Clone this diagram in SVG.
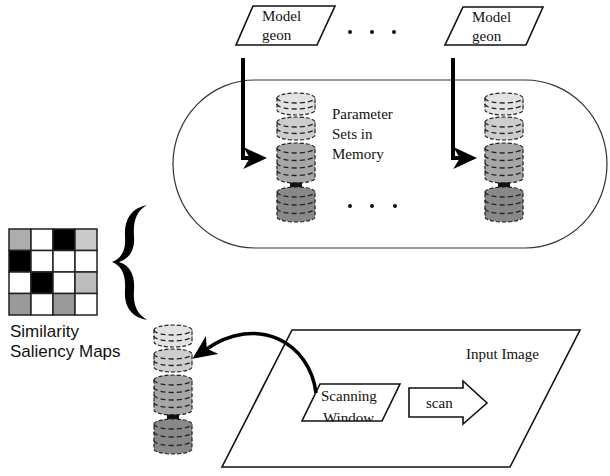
<svg xmlns="http://www.w3.org/2000/svg" width="610" height="476" viewBox="0 0 610 476">
<style>
.serif{font-family:"Liberation Serif","Times New Roman",serif;font-size:15px;fill:#111}
.sans{font-family:"Liberation Sans",Arial,sans-serif;font-size:17px;fill:#111}
.outline{fill:#fff;stroke:#111;stroke-width:1.6}
.thin{fill:none;stroke:#333;stroke-width:1.2}
.conn{fill:none;stroke:#000;stroke-width:4}
.cyl{stroke:#222;stroke-width:1.2;stroke-dasharray:4 2}
.div{fill:none;stroke:#222;stroke-width:1.3;stroke-dasharray:5 3}
.cell{stroke:#222;stroke-width:1.5}
</style>
<defs>
<marker id="barb" markerUnits="userSpaceOnUse" markerWidth="24" markerHeight="22" viewBox="0 0 22 20" refX="8" refY="10" orient="auto">
<path d="M0,0 L22,10 L0,20 L6,10 Z" fill="#000"/>
</marker>
<g id="stack">
<path class="cyl" fill="#e2e2e2" d="M-19,5 A19,5 0 0 1 19,5 L19,17 A19,5 0 0 1 -19,17 Z"/>
<path class="div" d="M-19,5 A19,5 0 0 0 19,5 M-19,11 A19,5 0 0 0 19,11"/>
<path class="cyl" fill="#cdcdcd" d="M-19,29 A19,5 0 0 1 19,29 L19,42 A19,5 0 0 1 -19,42 Z"/>
<path class="div" d="M-19,29 A19,5 0 0 0 19,29 M-19,35.5 A19,5 0 0 0 19,35.5"/>
<path class="cyl" fill="#a6a6a6" d="M-19,55 A19,5 0 0 1 19,55 L19,85 A19,5 0 0 1 -19,85 Z"/>
<path class="div" d="M-19,55 A19,5 0 0 0 19,55 M-19,62.5 A19,5 0 0 0 19,62.5 M-19,70 A19,5 0 0 0 19,70 M-19,77.5 A19,5 0 0 0 19,77.5"/>
<rect x="-6" y="89.5" width="12" height="5" fill="#111"/>
<path class="cyl" fill="#888" d="M-19,99 A19,5 0 0 1 19,99 L19,124 A19,5 0 0 1 -19,124 Z"/>
<path class="div" d="M-19,99 A19,5 0 0 0 19,99 M-19,107 A19,5 0 0 0 19,107 M-19,115.5 A19,5 0 0 0 19,115.5"/>
</g>
<clipPath id="swclip"><polygon points="320,384 400,384 382,421 302,421"/></clipPath>
</defs>

<g id="memory">
<path class="thin" d="M255,80 L525,80 A82,84 0 0 1 525,248 L255,248 A82,84 0 0 1 255,80 Z"/>
</g>

<g id="model-geon-1">
<polygon class="outline" points="253,6 335,6 317,45 236,45"/>
<text class="serif" x="262" y="21">Model</text>
<text class="serif" x="262" y="40">geon</text>
</g>
<g id="model-geon-2">
<polygon class="outline" points="463,7 543,7 526,45 445,45"/>
<text class="serif" x="472" y="22">Model</text>
<text class="serif" x="472" y="41">geon</text>
</g>
<g id="dots-top" fill="#111">
<circle cx="350" cy="32" r="2"/><circle cx="372" cy="32" r="2"/><circle cx="394" cy="32" r="2"/>
</g>

<g id="stack-1"><use href="#stack" transform="translate(296,93)"/></g>
<g id="stack-2"><use href="#stack" transform="translate(504,93)"/></g>
<g id="param-label">
<text class="serif" x="332" y="119">Parameter</text>
<text class="serif" x="332" y="139">Sets in</text>
<text class="serif" x="332" y="159">Memory</text>
</g>
<g id="dots-mid" fill="#111">
<circle cx="350" cy="206" r="2"/><circle cx="372" cy="206" r="2"/><circle cx="395" cy="206" r="2"/>
</g>

<g id="saliency-grid">
<rect class="cell" x="9" y="229" width="22" height="21.5" fill="#adadad"/>
<rect class="cell" x="31" y="229" width="22" height="21.5" fill="#fff"/>
<rect class="cell" x="53" y="229" width="22" height="21.5" fill="#000"/>
<rect class="cell" x="75" y="229" width="22" height="21.5" fill="#cacaca"/>
<rect class="cell" x="9" y="250.5" width="22" height="21.5" fill="#000"/>
<rect class="cell" x="31" y="250.5" width="22" height="21.5" fill="#fff"/>
<rect class="cell" x="53" y="250.5" width="22" height="21.5" fill="#fff"/>
<rect class="cell" x="75" y="250.5" width="22" height="21.5" fill="#fff"/>
<rect class="cell" x="9" y="272" width="22" height="21.5" fill="#fff"/>
<rect class="cell" x="31" y="272" width="22" height="21.5" fill="#000"/>
<rect class="cell" x="53" y="272" width="22" height="21.5" fill="#fff"/>
<rect class="cell" x="75" y="272" width="22" height="21.5" fill="#bdbdbd"/>
<rect class="cell" x="9" y="293.5" width="22" height="21.5" fill="#9a9a9a"/>
<rect class="cell" x="31" y="293.5" width="22" height="21.5" fill="#fff"/>
<rect class="cell" x="53" y="293.5" width="22" height="21.5" fill="#9a9a9a"/>
<rect class="cell" x="75" y="293.5" width="22" height="21.5" fill="#fff"/>
</g>
<g id="brace">
<path fill="#000" d="M147,205 C131,208 124,220 125,236 C126,250 122,258 112,262 C122,266 126,275 125,290 C124,305 130,317 147,320 C136,313 133,304 134,290 C135,276 131,266 119,262 C131,258 135,248 134,236 C133,222 136,211 147,205 Z"/>
</g>
<g id="saliency-label">
<text class="sans" x="10" y="337">Similarity</text>
<text class="sans" x="10" y="357">Saliency Maps</text>
</g>

<g id="stack-3"><use href="#stack" transform="translate(173,325)"/></g>

<g id="input-image">
<polygon class="outline" points="292,330 580,330 510,467 222,467"/>
<text class="serif" x="466" y="359">Input Image</text>
</g>
<g id="scanning-window">
<polygon class="outline" points="320,384 400,384 382,421 302,421"/>
<g clip-path="url(#swclip)">
<text class="serif" x="321" y="401">Scanning</text>
<text class="serif" x="323" y="423">Window</text>
</g>
</g>
<g id="scan-arrow">
<polygon class="outline" points="409,388 463,388 463,381 487,403 463,424 463,417 409,417"/>
<text class="serif" x="426" y="408">scan</text>
</g>

<g id="connectors">
<path class="conn" d="M243,58 L243,158 L252,158" marker-end="url(#barb)"/>
<path class="conn" d="M453,58 L453,158 L462,158" marker-end="url(#barb)"/>
<path class="conn" style="stroke-width:3.5" d="M316,393 C310,343 258,313 205,350" marker-end="url(#barb)"/>
</g>
</svg>
